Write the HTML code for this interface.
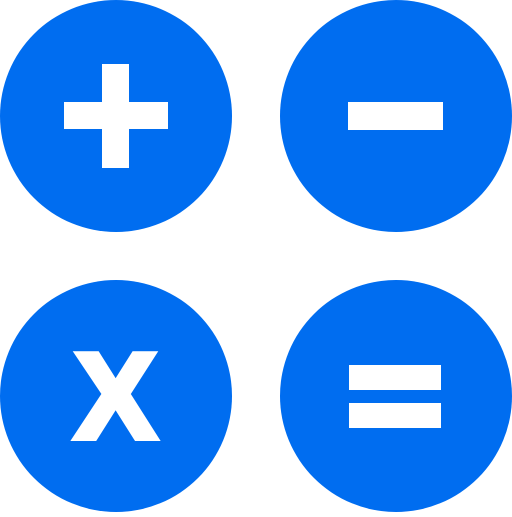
<!DOCTYPE html>
<html>
<head>
<meta charset="utf-8">
<style>
html,body{margin:0;padding:0;background:#fff;}
body{width:512px;height:512px;overflow:hidden;}
</style>
</head>
<body>
<svg width="512" height="512" viewBox="0 0 512 512">
  <g>
    <circle cx="116" cy="116" r="116" fill="#006DF0"/>
    <rect x="64" y="102" width="104" height="27" fill="#fff"/>
    <rect x="102" y="64" width="27" height="104" fill="#fff"/>
  </g>
  <g>
    <circle cx="396" cy="116" r="116" fill="#006DF0"/>
    <rect x="348" y="102" width="95" height="28" fill="#fff"/>
  </g>
  <g>
    <circle cx="116" cy="396" r="116" fill="#006DF0"/>
    <text x="115.5" y="438" text-anchor="middle" font-family="Liberation Sans, sans-serif" font-weight="bold" font-size="122" fill="#fff" stroke="#fff" stroke-width="6" stroke-linejoin="miter">X</text>
  </g>
  <g>
    <circle cx="396" cy="396" r="116" fill="#006DF0"/>
    <rect x="349" y="365" width="92" height="25" fill="#fff"/>
    <rect x="349" y="403" width="92" height="25" fill="#fff"/>
  </g>
</svg>
</body>
</html>
